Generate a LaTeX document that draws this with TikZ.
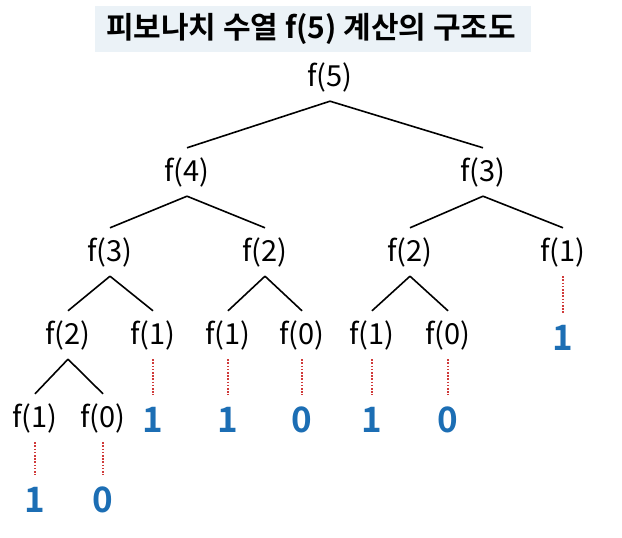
\documentclass[tikz,border=0pt]{standalone}
\usepackage{fontspec}
\setmainfont{Noto Sans CJK KR}[BoldFont={Noto Sans CJK KR Bold}]
\usepackage{xcolor}
\usepackage{tikz}
\usetikzlibrary{positioning}
\definecolor{cTitle}{HTML}{EBF2F7}
\definecolor{cVal}  {HTML}{1C6EB4}
\definecolor{cDot}  {HTML}{D03A3A}

\begin{document}
\begin{tikzpicture}[x=1pt,y=-1pt,
    call/.style={inner sep=0pt,minimum height=48pt,font=\fontsize{29}{29}\selectfont},
    val/.style={inner sep=0pt,minimum height=50pt,text=cVal,font=\fontsize{35}{35}\selectfont\bfseries},
    edge/.style={line width=1.6pt},
    base/.style={cDot,line width=1.8pt,dash pattern=on 1.6pt off 1.6pt}]
        \useasboundingbox (0,0) rectangle (622,538);
        % title
        \fill[cTitle] (95,6) rectangle (531,52);
        \node[font=\fontsize{30}{30}\selectfont\bfseries] (title) at (311,29) {피보나치 수열 f(5) 계산의 구조도};
        % calls
        \node[call] (t5) at (330,77) {f(5)};
        \node[call] (a4) at (187,172) {f(4)};
        \node[call] (b3) at (483,172) {f(3)};
        \node[call] (c3) at (110,252) {f(3)};
        \node[call] (c2) at (265,252) {f(2)};
        \node[call] (d2) at (410,252) {f(2)};
        \node[call] (d1) at (563,252) {f(1)};
        \node[call] (e2) at (68,335) {f(2)};
        \node[call] (e1) at (153,335) {f(1)};
        \node[call] (g1) at (228,335) {f(1)};
        \node[call] (g0) at (302,335) {f(0)};
        \node[call] (h1) at (372,335) {f(1)};
        \node[call] (h0) at (448,335) {f(0)};
        \node[call] (k1) at (35,418) {f(1)};
        \node[call] (k0) at (103,418) {f(0)};
        % base values
        \node[val] (vd1) at (563,338) {1};
        \node[val] (ve1) at (153,420) {1};
        \node[val] (vg1) at (228,420) {1};
        \node[val] (vg0) at (302,420) {0};
        \node[val] (vh1) at (372,420) {1};
        \node[val] (vh0) at (448,420) {0};
        \node[val] (vk1) at (35,500) {1};
        \node[val] (vk0) at (103,500) {0};
        % tree
        \foreach \p/\c in {t5/a4,t5/b3,a4/c3,a4/c2,b3/d2,b3/d1,c3/e2,c3/e1,c2/g1,c2/g0,d2/h1,d2/h0,e2/k1,e2/k0}
          {\draw[edge] (\p.south) -- (\c.north);}
        \foreach \p in {d1,e1,g1,g0,h1,h0,k1,k0}
          {\draw[base] (\p.south) -- (v\p.north);}
      \end{tikzpicture}
\end{document}
